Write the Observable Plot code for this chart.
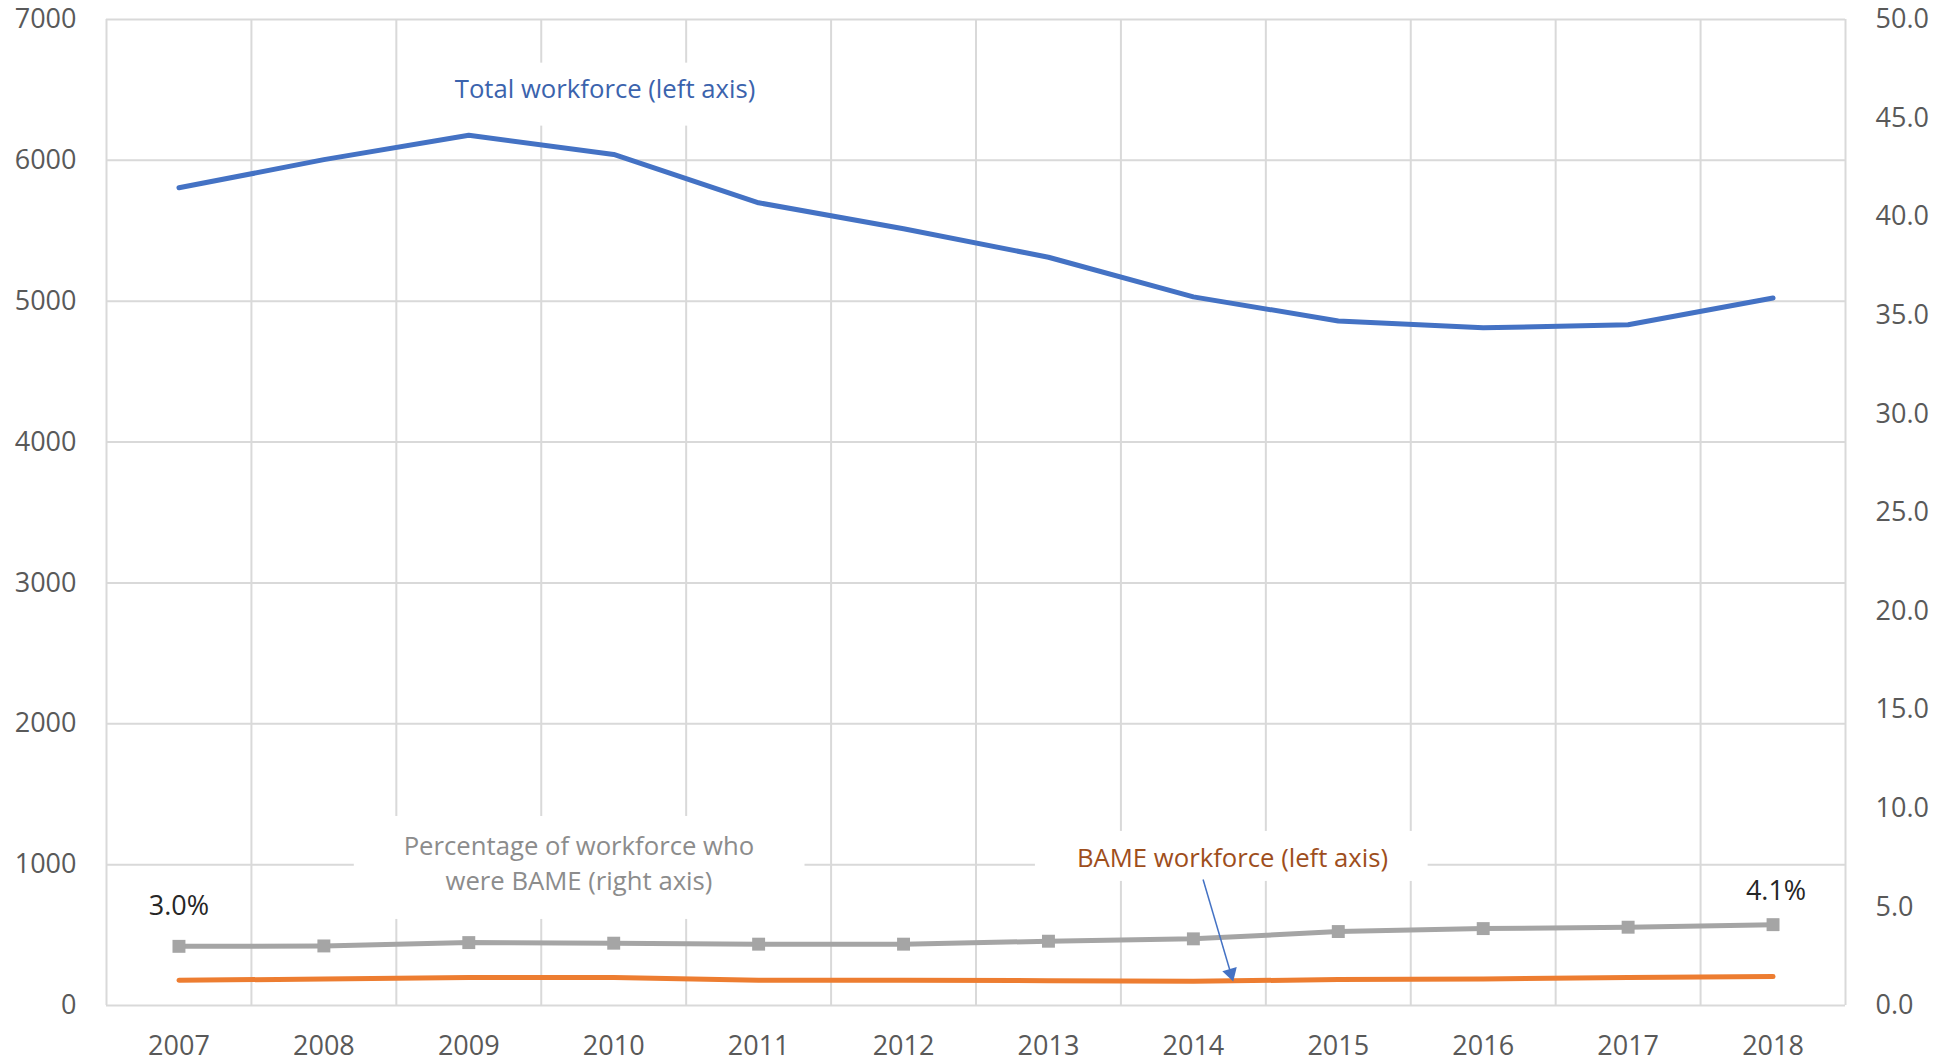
<!DOCTYPE html>
<html><head><meta charset="utf-8">
<script src="https://cdn.jsdelivr.net/npm/d3@7"></script>
<script src="https://cdn.jsdelivr.net/npm/@observablehq/plot@0.6"></script>
<style>body{margin:0;background:#fff;} svg{display:block}</style>
</head><body><div id="chart"></div>
<script>
const years = [2007, 2008, 2009, 2010, 2011, 2012, 2013, 2014, 2015, 2016, 2017, 2018];
const totalWorkforce = [5805, 6005, 6178, 6042, 5699, 5515, 5312, 5031, 4860, 4811, 4833, 5023];
const bameWorkforce = [179, 188, 198, 198, 179, 179, 176, 172, 184, 188, 198, 205];
const bamePct = [3.0, 3.02, 3.19, 3.16, 3.11, 3.11, 3.26, 3.38, 3.75, 3.9, 3.97, 4.1];
const leftTicks = [0, 1000, 2000, 3000, 4000, 5000, 6000, 7000];
const rightTicks = [0, 5, 10, 15, 20, 25, 30, 35, 40, 45, 50];
const pctToLeft = 7000 / 50;

const data = years.map((year, i) => ({year, total: totalWorkforce[i], bame: bameWorkforce[i], pct: bamePct[i]}));
const bounds = d3.range(years.length + 1).map(i => years[0] - 0.5 + i);

// annotation text boxes (white background) in data units
const boxes = [
  {x1: 2008.8, x2: 2011.08, y1: 6243, y2: 6690},
  {x1: 2008.21, x2: 2011.32, y1: 611, y2: 1342},
  {x1: 2012.91, x2: 2015.62, y1: 881, y2: 1236}
];
const labels = [
  {x: 2009.94, y: 6519, text: "Total workforce (left axis)", color: "#3B63AD"},
  {x: 2009.76, y: 1022, text: "Percentage of workforce who\nwere BAME (right axis)", color: "#8C8C8C"},
  {x: 2014.27, y: 1063, text: "BAME workforce (left axis)", color: "#9E4E1C"}
];
const arrow = [{x1: 2014.067, y1: 895, x2: 2014.258, y2: 229}];
const first = data[0], last = data[data.length - 1];

const chart = Plot.plot({
  width: 1942, height: 1064,
  marginLeft: 106, marginRight: 97, marginTop: 19, marginBottom: 59,
  style: {fontFamily: "'Open Sans', sans-serif", fontSize: "27px", color: "#595959", background: "#fff"},
  x: {domain: [2006.5, 2018.5], label: null},
  y: {domain: [0, 7000], label: null},
  marks: [
    Plot.ruleY(leftTicks, {stroke: "#d9d9d9", strokeWidth: 2}),
    Plot.ruleX(bounds, {stroke: "#d9d9d9", strokeWidth: 2}),
    Plot.rect(boxes, {x1: "x1", x2: "x2", y1: "y1", y2: "y2", fill: "white"}),
    Plot.axisX(years, {tickSize: 0, tickPadding: 30, tickFormat: d => String(d), label: null, fill: "#595959"}),
    Plot.axisY(leftTicks, {anchor: "left", tickSize: 0, tickPadding: 30, tickFormat: d => String(d), label: null, fill: "#595959"}),
    Plot.axisY(rightTicks.map(v => v * pctToLeft), {anchor: "right", tickSize: 0, tickPadding: 30, tickFormat: d => (d / pctToLeft).toFixed(1), label: null, fill: "#595959"}),
    Plot.line(data, {x: "year", y: "total", stroke: "#4472C4", strokeWidth: 5, strokeLinecap: "round", strokeLinejoin: "round"}),
    Plot.line(data, {x: "year", y: "bame", stroke: "#ED7D31", strokeWidth: 5, strokeLinecap: "round", strokeLinejoin: "round"}),
    Plot.line(data, {x: "year", y: d => d.pct * pctToLeft, stroke: "#A5A5A5", strokeWidth: 5, strokeLinejoin: "round"}),
    Plot.dot(data, {x: "year", y: d => d.pct * pctToLeft, symbol: "square", r: 7.3, fill: "#A5A5A5"}),
    Plot.text([first], {x: "year", y: d => d.pct * pctToLeft, text: d => d.pct.toFixed(1) + "%", dy: -40, fill: "#262626", fontSize: 27}),
    Plot.text([last], {x: "year", y: d => d.pct * pctToLeft, text: d => d.pct.toFixed(1) + "%", dy: -33, dx: 3, fill: "#262626", fontSize: 27}),
    Plot.text(labels, {x: "x", y: "y", text: "text", fill: "color", fontSize: 25.7, lineHeight: 1.36}),
    Plot.link(arrow, {x1: "x1", y1: "y1", x2: "x2", y2: "y2", stroke: "#4472C4", strokeWidth: 1.5}),
    Plot.dot(arrow, {x: "x2", y: "y2", symbol: "triangle", r: 5.6, fill: "#4472C4", rotate: 163.6})
  ]
});
document.getElementById("chart").append(chart);
</script>
</body></html>
